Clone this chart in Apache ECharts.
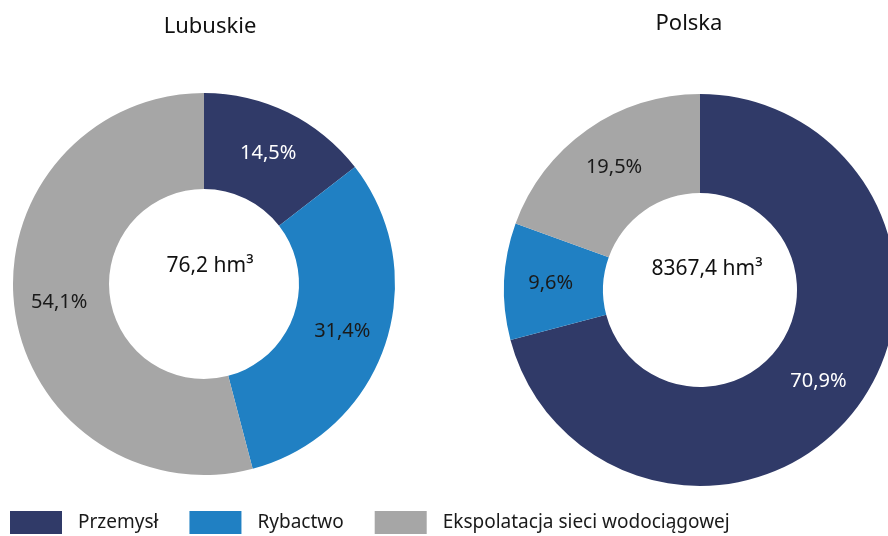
<!DOCTYPE html>
<html>
<head>
<meta charset="utf-8">
<script src="https://cdn.jsdelivr.net/npm/echarts@6/dist/echarts.min.js"></script>
<style>
html,body{margin:0;padding:0;background:#fff;}
#chart{width:888px;height:536px;}
</style>
</head>
<body>
<div id="chart"></div>
<script>
var categories = ['Przemysł', 'Rybactwo', 'Ekspolatacja sieci wodociągowej'];
var lubuskieValues = [14.5, 31.4, 54.1];
var polskaValues = [70.9, 9.6, 19.5];
var regionNames = ['Lubuskie', 'Polska'];
var totals = ['76,2 hm³', '8367,4 hm³'];

var colors = ['#303a68', '#2080c3', '#a6a6a6'];
var labelColors = ['#ffffff', '#1a1a1a', '#1a1a1a'];
var font = 'Noto Sans';

function buildData(values){
    var out = [];
    for(var i = 0; i < values.length; i++){
        out.push({
            name: categories[i],
            value: values[i],
            itemStyle: {color: colors[i]},
            label: {color: labelColors[i]}
        });
    }
    return out;
}

function pct(p){
    return p.value.toFixed(1).replace('.', ',') + '%';
}

var myChart = echarts.init(document.getElementById('chart'));
var option = {
    animation: false,
    title: [
        {text: regionNames[0], left: 205, top: 11, textAlign: 'center',
         textStyle: {fontFamily: font, fontSize: 22, fontWeight: 'normal', color: '#111'}},
        {text: regionNames[1], left: 684, top: 8, textAlign: 'center',
         textStyle: {fontFamily: font, fontSize: 22, fontWeight: 'normal', color: '#111'}},
        {text: totals[0], left: 205, top: 251, textAlign: 'center',
         textStyle: {fontFamily: font, fontSize: 21, fontWeight: 'normal', color: '#111'}},
        {text: totals[1], left: 702, top: 254, textAlign: 'center',
         textStyle: {fontFamily: font, fontSize: 21, fontWeight: 'normal', color: '#111'}}
    ],
    legend: {
        left: 5,
        top: 506,
        itemWidth: 52,
        itemHeight: 23,
        itemGap: 31,
        icon: 'rect',
        data: categories,
        textStyle: {fontFamily: font, fontSize: 19, color: '#1a1a1a', padding: [0, 0, 0, 11]}
    },
    series: [
        {
            type: 'pie',
            center: [204, 284],
            radius: [95, 191],
            startAngle: 90,
            clockwise: true,
            label: {position: 'inside', formatter: pct, fontFamily: font, fontSize: 20},
            labelLine: {show: false},
            data: buildData(lubuskieValues)
        },
        {
            type: 'pie',
            center: [700, 290],
            radius: [97, 196],
            startAngle: 90,
            clockwise: true,
            label: {position: 'inside', formatter: pct, fontFamily: font, fontSize: 20},
            labelLine: {show: false},
            data: buildData(polskaValues)
        }
    ]
};
myChart.setOption(option);
</script>
</body>
</html>
